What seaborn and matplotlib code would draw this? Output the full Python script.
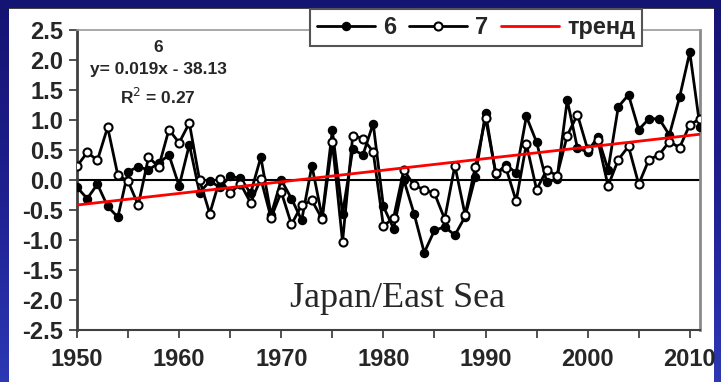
import numpy as np
import pandas as pd
import matplotlib
matplotlib.use("Agg")
import matplotlib.pyplot as plt
from matplotlib.patches import Rectangle
from matplotlib.colors import LinearSegmentedColormap
import seaborn as sns

# Annual anomalies, Japan/East Sea
years = list(range(1950, 2012))
series_6 = [-0.12, -0.31, -0.07, -0.44, -0.62, 0.14, 0.22, 0.17, 0.28, 0.42,
            -0.10, 0.59, -0.21, -0.02, -0.12, 0.06, 0.03, -0.22, 0.38, -0.58,
            0.00, -0.31, -0.67, 0.24, -0.62, 0.83, -0.56, 0.51, 0.42, 0.94,
            -0.44, -0.81, 0.00, -0.56, -1.21, -0.84, -0.78, -0.92, -0.61, 0.05,
            1.12, 0.10, 0.25, 0.12, 1.06, 0.63, -0.04, 0.02, 1.33, 0.53,
            0.47, 0.72, 0.17, 1.22, 1.42, 0.84, 1.02, 1.02, 0.75, 1.38,
            2.13, 0.88]
series_7 = [0.23, 0.46, 0.33, 0.88, 0.08, -0.02, -0.42, 0.38, 0.22, 0.84,
            0.62, 0.95, 0.00, -0.56, 0.02, -0.22, -0.06, -0.38, 0.02, -0.63,
            -0.20, -0.74, -0.42, -0.34, -0.65, 0.63, -1.03, 0.74, 0.69, 0.47,
            -0.77, -0.63, 0.17, -0.09, -0.16, -0.22, -0.65, 0.24, -0.58, 0.22,
            1.03, 0.12, 0.20, -0.35, 0.60, -0.16, 0.17, 0.07, 0.74, 1.09,
            0.51, 0.66, -0.10, 0.34, 0.56, -0.07, 0.34, 0.42, 0.64, 0.54,
            0.92, 1.02]

# Linear trend of series 6
trend_slope = 0.01934
trend_intercept = -38.13
r_squared = 0.27

x_ticks = [1950, 1960, 1970, 1980, 1990, 2000, 2010]
x_minor_ticks = [1955, 1965, 1975, 1985, 1995, 2005]
y_ticks = [-2.5, -2.0, -1.5, -1.0, -0.5, 0.0, 0.5, 1.0, 1.5, 2.0, 2.5]
legend_labels = ["6", "7", "тренд"]
region_label = "Japan/East Sea"

sns.set_theme(style="white")
plt.rcParams["font.family"] = ["Liberation Sans", "DejaVu Sans"]

W, H = 721, 382
fig = plt.figure(figsize=(W / 100, H / 100), dpi=100)

# Blue slide background with a white panel
bg = fig.add_axes([0, 0, 1, 1])
bg.set_axis_off()
bg.set_xlim(0, 1)
bg.set_ylim(0, 1)
grad = np.linspace(0, 1, 256).reshape(-1, 1)
cmap = LinearSegmentedColormap.from_list("slide", ["#141472", "#1f1f8f", "#2c38b4"])
bg.imshow(grad, aspect="auto", cmap=cmap, extent=[0, 1, 0, 1], origin="upper", zorder=0)
bg.add_patch(Rectangle((9 / W, 0), 705 / W, 374 / H, facecolor="white",
                       edgecolor="none", zorder=1))
bg.plot([9 / W, 714 / W], [374 / H, 374 / H], color="#202020", lw=1.2, zorder=2)

ax = fig.add_axes([77 / W, 52 / H, 623 / W, 300 / H])
ax.set_facecolor("white")

df = pd.DataFrame({"year": years, "s6": series_6, "s7": series_7})
df["trend"] = [trend_slope * y + trend_intercept for y in years]

ax.axhline(0, color="black", lw=1.5, zorder=1)
sns.lineplot(data=df, x="year", y="s6", ax=ax, color="black", lw=2,
             marker="o", markersize=5.8, markerfacecolor="black",
             markeredgecolor="black", markeredgewidth=1, label=legend_labels[0],
             zorder=3)
sns.lineplot(data=df, x="year", y="s7", ax=ax, color="black", lw=2,
             marker="o", markersize=5.8, markerfacecolor="white",
             markeredgecolor="black", markeredgewidth=1.5, label=legend_labels[1],
             zorder=4)
sns.lineplot(data=df, x="year", y="trend", ax=ax, color="red", lw=2,
             label=legend_labels[2], zorder=5)

ax.set_xlim(1950, 2011)
ax.set_ylim(-2.5, 2.5)
ax.set_xlabel("")
ax.set_ylabel("")
ax.set_xticks(x_ticks)
ax.set_xticks(x_minor_ticks, minor=True)
ax.set_xticklabels([str(t) for t in x_ticks])
ax.set_yticks(y_ticks)
ax.set_yticklabels([f"{t:.1f}" for t in y_ticks])
ax.tick_params(axis="both", which="both", direction="out", length=6, width=1.2,
               color="#333333", bottom=True, left=True)
ax.tick_params(axis="x", labelsize=17, pad=7)
ax.tick_params(axis="y", labelsize=17, pad=4)
for lbl in ax.get_xticklabels() + ax.get_yticklabels():
    lbl.set_fontweight("bold")

ax.spines["left"].set_color("#404040")
ax.spines["left"].set_linewidth(2)
ax.spines["bottom"].set_color("#404040")
ax.spines["bottom"].set_linewidth(1.5)
ax.spines["top"].set_color("#9a9a9a")
ax.spines["top"].set_linewidth(1.2)
ax.spines["right"].set_color("#8a8a8a")
ax.spines["right"].set_linewidth(2)

# Regression annotation
eq_x = 0.13
ax.text(eq_x, 0.943, "6", transform=ax.transAxes, ha="center", va="center",
        fontsize=12.5, fontweight="bold")
ax.text(eq_x, 0.867, f"y= {trend_slope:.3f}x - {abs(trend_intercept):.2f}",
        transform=ax.transAxes, ha="center", va="center", fontsize=12.5,
        fontweight="bold")
ax.text(eq_x, 0.777, f"R$^2$ = {r_squared:.2f}", transform=ax.transAxes,
        ha="center", va="center", fontsize=12.5, fontweight="bold")

ax.text(1981.4, -2.12, region_label, ha="center", va="baseline", fontsize=26,
        family=["Liberation Serif", "DejaVu Serif"])

leg = ax.legend(loc="upper left", bbox_to_anchor=(310 / W, 1 - 9 / H),
                bbox_transform=fig.transFigure, ncol=3, frameon=True,
                fancybox=False, framealpha=1, edgecolor="#555555",
                prop={"weight": "bold", "size": 17}, handlelength=2.45,
                handletextpad=0.34, columnspacing=0.55, borderpad=0.3,
                borderaxespad=0)
leg.get_frame().set_linewidth(1.5)
leg.set_zorder(10)

fig.savefig("out.png", dpi=100)
